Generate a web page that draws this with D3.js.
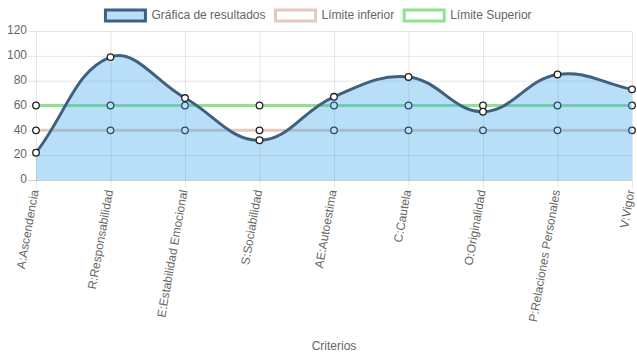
<!DOCTYPE html>
<html><head><meta charset="utf-8">
<script src="https://cdn.jsdelivr.net/npm/d3@7"></script>
<style>body{margin:0;background:#fff}svg{display:block}text{font-family:"Liberation Sans",Arial,sans-serif;font-size:12px;fill:#666}</style>
</head><body><svg id="c" width="637" height="359"></svg>
<script>
const categories = ["A:Ascendencia","R:Responsabilidad","E:Estabilidad Emocional","S:Sociabilidad","AE:Autoestima","C:Cautela","O:Originalidad","P:Relaciones Personales","V:Vigor"];
const resultados = [22, 99, 66, 32, 67, 83, 55, 85, 73];
const limiteInferior = [40, 40, 40, 40, 40, 40, 40, 40, 40];
const limiteSuperior = [60, 60, 60, 60, 60, 60, 60, 60, 60];
const yTicks = [0, 20, 40, 60, 80, 100, 120];
const seriesNames = ["Gráfica de resultados", "Límite inferior", "Límite Superior"];

const svg = d3.select("#c");
const L = 36, R = 632, T = 31, B = 180;
const x = d3.scalePoint().domain(categories).range([L, R]);
const y = d3.scaleLinear().domain([0, 120]).range([B, T]);
const grid = "rgba(0,0,0,0.1)";

// grid
const g = svg.append("g");
yTicks.forEach(v => {
  g.append("line").attr("x1", L - 8).attr("x2", R).attr("y1", y(v) + 0.5).attr("y2", y(v) + 0.5)
    .attr("stroke", v === 0 ? "rgba(0,0,0,0.18)" : grid);
  svg.append("text").attr("x", L - 9).attr("y", y(v)).attr("text-anchor", "end")
    .attr("dominant-baseline", "middle").text(v);
});
categories.forEach(c => {
  g.append("line").attr("x1", x(c) + 0.5).attr("x2", x(c) + 0.5).attr("y1", T).attr("y2", B + 8)
    .attr("stroke", grid);
  svg.append("text").attr("transform", `translate(${x(c) - 0.5},${B + 10}) rotate(-80)`)
    .attr("text-anchor", "end").attr("dominant-baseline", "middle").text(c);
});
svg.append("text").attr("x", (L + R) / 2).attr("y", 347).attr("text-anchor", "middle")
  .attr("dominant-baseline", "middle").text("Criterios");

// Chart.js-like spline
function splinePath(vals, close) {
  const pts = vals.map((v, i) => ({x: x(categories[i]), y: y(v)}));
  const t = 0.4;
  pts.forEach((p, i) => {
    const prev = pts[i - 1] || p, next = pts[i + 1] || p;
    const d01 = Math.hypot(p.x - prev.x, p.y - prev.y), d12 = Math.hypot(next.x - p.x, next.y - p.y);
    let s01 = d01 / (d01 + d12), s12 = d12 / (d01 + d12);
    if (isNaN(s01)) s01 = 0; if (isNaN(s12)) s12 = 0;
    const fa = t * s01, fb = t * s12;
    p.cpPrev = {x: p.x - fa * (next.x - prev.x), y: Math.min(B, Math.max(T, p.y - fa * (next.y - prev.y)))};
    p.cpNext = {x: p.x + fb * (next.x - prev.x), y: Math.min(B, Math.max(T, p.y + fb * (next.y - prev.y)))};
  });
  const path = d3.path();
  path.moveTo(pts[0].x, pts[0].y);
  for (let i = 1; i < pts.length; i++) {
    path.bezierCurveTo(pts[i - 1].cpNext.x, pts[i - 1].cpNext.y, pts[i].cpPrev.x, pts[i].cpPrev.y, pts[i].x, pts[i].y);
  }
  if (close) { path.lineTo(pts[pts.length - 1].x, y(0)); path.lineTo(pts[0].x, y(0)); path.closePath(); }
  return path.toString();
}
function points(vals) {
  svg.append("g").selectAll("circle").data(vals).join("circle")
    .attr("cx", (d, i) => x(categories[i])).attr("cy", d => y(d)).attr("r", 3.3)
    .attr("fill", "#fff").attr("stroke", "#222").attr("stroke-width", 1.3);
}
const colUp = "#8ee48e", colLow = "#e6c9bd", colRes = "#3f607f", fillRes = "rgba(54,162,235,0.35)";

svg.append("path").attr("d", splinePath(limiteSuperior)).attr("fill", "none").attr("stroke", colUp).attr("stroke-width", 3);
points(limiteSuperior);
svg.append("path").attr("d", splinePath(limiteInferior)).attr("fill", "none").attr("stroke", colLow).attr("stroke-width", 3);
points(limiteInferior);
svg.append("path").attr("d", splinePath(resultados, true)).attr("fill", fillRes).attr("stroke", "none");
svg.append("path").attr("d", splinePath(resultados)).attr("fill", "none").attr("stroke", colRes).attr("stroke-width", 3);
points(resultados);

// legend
const items = [
  {name: seriesNames[0], stroke: colRes, fill: fillRes},
  {name: seriesNames[1], stroke: colLow, fill: "#fff"},
  {name: seriesNames[2], stroke: colUp, fill: "#fff"}
];
const lg = svg.append("g");
let widths = [];
items.forEach(it => {
  const tmp = lg.append("text").text(it.name);
  widths.push(tmp.node().getComputedTextLength());
  tmp.remove();
});
const total = d3.sum(widths.map(w => 40 + 6 + w)) + 10 * (items.length - 1);
let cx = (637 - total) / 2;
items.forEach((it, i) => {
  lg.append("rect").attr("x", cx).attr("y", 10).attr("width", 40).attr("height", 11)
    .attr("fill", it.fill).attr("stroke", it.stroke).attr("stroke-width", 3);
  lg.append("text").attr("x", cx + 46).attr("y", 15.5).attr("dominant-baseline", "middle").text(it.name);
  cx += 40 + 6 + widths[i] + 10;
});
</script></body></html>
